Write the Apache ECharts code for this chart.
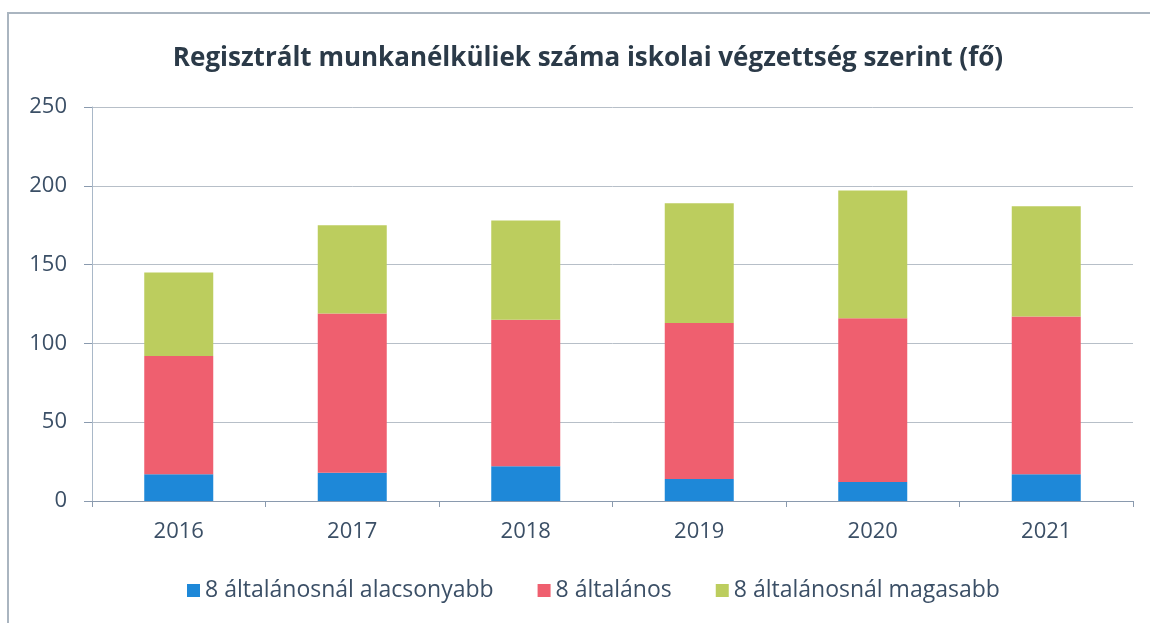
<!DOCTYPE html>
<html>
<head>
<meta charset="utf-8">
<script src="https://cdn.jsdelivr.net/npm/echarts@6/dist/echarts.min.js"></script>
<style>
  html, body { margin: 0; padding: 0; background: #fff; }
  #chart { width: 1150px; height: 623px; }
  .frame { position: absolute; left: 7px; top: 12px; right: 0; bottom: 0;
    border-left: 2px solid #aab5c0; border-top: 2px solid #aab5c0; pointer-events: none; }
</style>
</head>
<body>
<div id="chart"></div>
<div class="frame"></div>
<script>
// evek
const years = ['2016', '2017', '2018', '2019', '2020', '2021']
// 8 altalanosnal alacsonyabb
const lowerValues = [17, 18, 22, 14, 12, 17]
// 8 altalanos
const primaryValues = [75, 101, 93, 99, 104, 100]
// 8 altalanosnal magasabb
const higherValues = [53, 56, 63, 76, 81, 70]
const yTicks = [0, 50, 100, 150, 200, 250]

const labelColor = '#3b4f66'
let myChart = echarts.init(document.getElementById('chart'))
let option = {
  animation: false,
  title: {
    text: 'Regisztrált munkanélküliek száma iskolai végzettség szerint (fő)',
    left: 583,
    textAlign: 'center',
    top: 41,
    textStyle: {
      fontFamily: 'Open Sans',
      fontWeight: 'bold',
      fontSize: 26,
      color: '#2b3a48'
    }
  },
  legend: {
    bottom: 16,
    left: 182,
    itemWidth: 13,
    itemHeight: 13,
    itemGap: 44,
    itemTextGap: 4,
    icon: 'rect',
    textStyle: { fontFamily: 'Open Sans', fontSize: 23, color: labelColor },
    data: ['8 általánosnál alacsonyabb', '8 általános', '8 általánosnál magasabb']
  },
  grid: { left: 92, right: 17, top: 107, bottom: 122 },
  xAxis: {
    type: 'category',
    data: years,
    axisLine: { lineStyle: { color: '#8a9aae' } },
    axisTick: { show: true, length: 6, lineStyle: { color: '#8a9aae' } },
    axisLabel: { fontFamily: 'Open Sans', fontSize: 22, color: labelColor, margin: 20 }
  },
  yAxis: {
    type: 'value',
    min: yTicks[0],
    max: yTicks[yTicks.length - 1],
    interval: 50,
    axisLine: { show: true, lineStyle: { color: '#a9b8c8' } },
    axisTick: { show: true, length: 8, lineStyle: { color: '#8a9aae' } },
    axisLabel: { fontFamily: 'Open Sans', fontSize: 22, color: labelColor, margin: 25 },
    splitLine: { lineStyle: { color: '#b7bfc8' } }
  },
  series: [{
    name: '8 általánosnál alacsonyabb',
    type: 'bar',
    stack: 'total',
    barWidth: 69,
    itemStyle: { color: '#1e88d8' },
    data: lowerValues
  }, {
    name: '8 általános',
    type: 'bar',
    stack: 'total',
    barWidth: 69,
    itemStyle: { color: '#ef5f6f' },
    data: primaryValues
  }, {
    name: '8 általánosnál magasabb',
    type: 'bar',
    stack: 'total',
    barWidth: 69,
    itemStyle: { color: '#bccd5e' },
    data: higherValues
  }]
}
myChart.setOption(option)
</script>
</body>
</html>
